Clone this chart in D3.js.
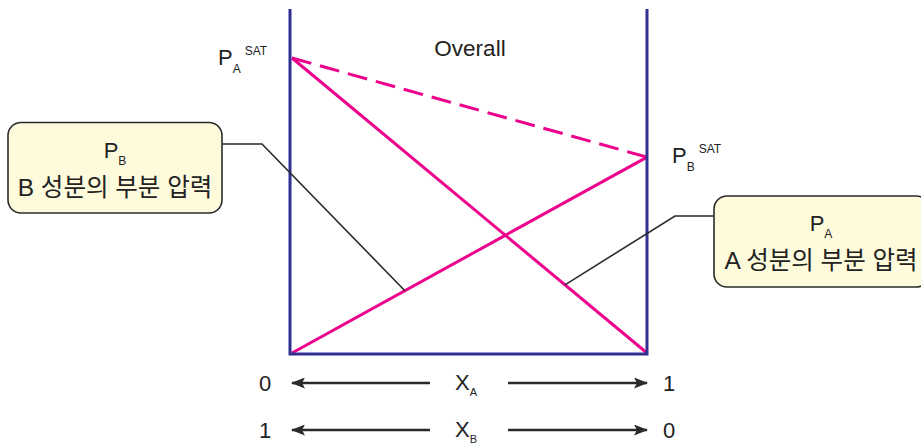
<!DOCTYPE html>
<html><head><meta charset="utf-8">
<script src="https://cdn.jsdelivr.net/npm/d3@7"></script>
<style>body{margin:0;background:#fff}svg{display:block}text{font-family:"Liberation Sans","Noto Sans CJK KR",Arial,sans-serif;fill:#222}</style>
</head><body><svg id="c" width="921" height="447"></svg>
<script>
// Data
const xA = [0, 1];
const pA = [1.0, 0];          // partial pressure of A (P_A)
const pB = [0, 0.664];        // partial pressure of B (P_B)
const pTotal = [1.0, 0.664];  // overall (dashed)
const leaderPB = 0.318;       // x_A where P_B callout touches
const leaderPA = 0.769;       // x_A where P_A callout touches
const axisRows = [{name:"X", sub:"A", left:"0", right:"1"},{name:"X", sub:"B", left:"1", right:"0"}];

const svg = d3.select("#c");
const x = d3.scaleLinear().domain([0,1]).range([292,647]);
const y = d3.scaleLinear().domain([0,1]).range([353,58]);
const blue = "#2e3192", pink = "#ec008c", dark = "#2a2a2a";

// Pink lines
const line = d3.line().x(d=>x(d[0])).y(d=>y(d[1]));
svg.append("path").attr("d", line(xA.map((v,i)=>[v,pTotal[i]]))).attr("fill","none").attr("stroke",pink).attr("stroke-width",3).attr("stroke-dasharray","20,9");
svg.append("path").attr("d", line(xA.map((v,i)=>[v,pA[i]]))).attr("fill","none").attr("stroke",pink).attr("stroke-width",3);
svg.append("path").attr("d", line(xA.map((v,i)=>[v,pB[i]]))).attr("fill","none").attr("stroke",pink).attr("stroke-width",3);

// Blue frame (open top)
svg.append("path").attr("d", `M${x(0)-2},9 V${y(0)+1} H${x(1)} V9`).attr("fill","none").attr("stroke",blue).attr("stroke-width",3);

// Leader lines
const interp = (arr,t)=>arr[0]+(arr[1]-arr[0])*t;
svg.append("path").attr("d",`M222,144 H262 L${x(leaderPB)},${y(interp(pB,leaderPB))}`).attr("fill","none").attr("stroke",dark).attr("stroke-width",1.6);
svg.append("path").attr("d",`M714,216 H675 L${x(leaderPA)},${y(interp(pA,leaderPA))}`).attr("fill","none").attr("stroke",dark).attr("stroke-width",1.6);

// Callout boxes
function box(x0,y0,w,h,sub,label,cx){
  svg.append("rect").attr("x",x0).attr("y",y0).attr("width",w).attr("height",h).attr("rx",13).attr("fill","#fdfbdc").attr("stroke",dark).attr("stroke-width",1.6);
  const t = svg.append("text").attr("x",cx).attr("y",y0+35).attr("text-anchor","middle").style("font-size","22px");
  t.append("tspan").text("P");
  t.append("tspan").attr("dy",7).style("font-size","12px").text(sub);
  svg.append("text").attr("x",cx).attr("y",y0+73).attr("text-anchor","middle").style("font-size","24.5px").text(label);
}
box(8,122.5,214,90.5,"B","B 성분의 부분 압력",115);
box(714,196,215,91,"A","A 성분의 부분 압력",821);

// SAT labels
function satLabel(px,py,sub){
  const t = svg.append("text").attr("x",px).attr("y",py).style("font-size","22px");
  t.append("tspan").text("P");
  t.append("tspan").attr("dy",8).style("font-size","12px").text(sub);
  t.append("tspan").attr("dy",-18).attr("dx",4).style("font-size","12px").text("SAT");
}
satLabel(218,65,"A");
satLabel(672,163,"B");

svg.append("text").attr("x",470).attr("y",56).attr("text-anchor","middle").style("font-size","22.5px").text("Overall");

// Axis arrows
const defs = svg.append("defs");
defs.append("marker").attr("id","ah").attr("viewBox","0 0 14 11").attr("refX",13).attr("refY",5.5).attr("markerWidth",14).attr("markerHeight",11).attr("markerUnits","userSpaceOnUse").attr("orient","auto")
  .append("path").attr("d","M0,0 L14,5.5 L0,11 L3,5.5 Z").attr("fill",dark);
const rowY = d3.scaleOrdinal().domain(axisRows.map(d=>d.sub)).range([383,430]);
axisRows.forEach(r=>{
  const yy = rowY(r.sub);
  svg.append("line").attr("x1",430).attr("x2",x(0)).attr("y1",yy).attr("y2",yy).attr("stroke",dark).attr("stroke-width",2.6).attr("marker-end","url(#ah)");
  svg.append("line").attr("x1",508).attr("x2",x(1)).attr("y1",yy).attr("y2",yy).attr("stroke",dark).attr("stroke-width",2.6).attr("marker-end","url(#ah)");
  svg.append("text").attr("x",265).attr("y",yy+8).attr("text-anchor","middle").style("font-size","22px").text(r.left);
  svg.append("text").attr("x",669).attr("y",yy+8).attr("text-anchor","middle").style("font-size","22px").text(r.right);
  const t = svg.append("text").attr("x",455).attr("y",yy+7).style("font-size","22px");
  t.append("tspan").text(r.name);
  t.append("tspan").attr("dy",6).style("font-size","11px").text(r.sub);
});
</script></body></html>
